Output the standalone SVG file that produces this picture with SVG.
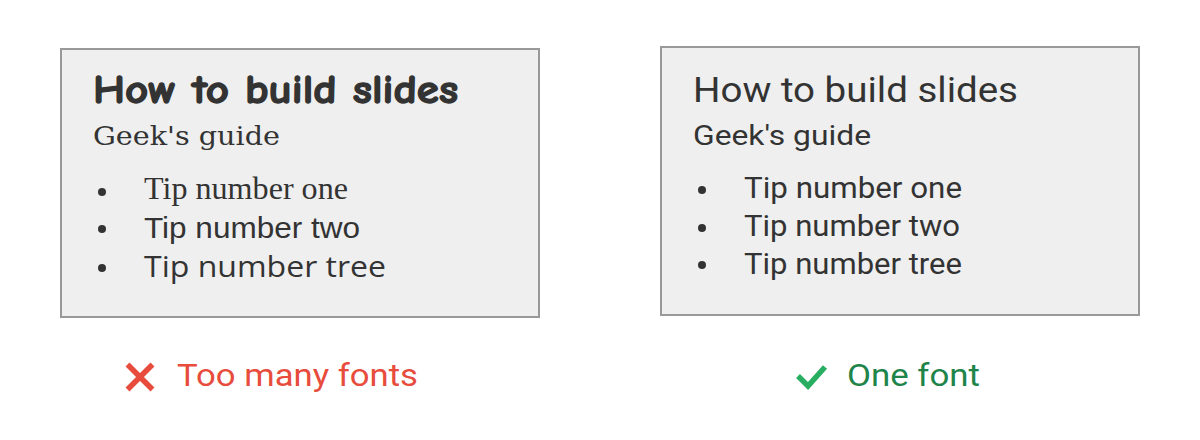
<svg xmlns="http://www.w3.org/2000/svg" width="1200" height="440" viewBox="0 0 1200 440">
<style>
.box{fill:#efefef;stroke:#999;stroke-width:2}
.t{fill:#333}
.dot{fill:#333}
.rob{font-family:Roboto,"Liberation Sans",sans-serif}
</style>
<rect width="1200" height="440" fill="#fff"/>
<g id="bad-slide">
<rect class="box" x="61" y="49" width="478" height="268"/>
<text class="t" x="93" y="103" font-family="'Comic Sans MS','Comic Neue','DejaVu Sans',sans-serif" font-weight="bold" font-size="40" stroke="#333" stroke-width="1.3" stroke-linejoin="round" textLength="365" lengthAdjust="spacingAndGlyphs">How to build slides</text>
<text class="t" x="93" y="145" font-family="'American Typewriter','DejaVu Serif',serif" font-size="26" textLength="187" lengthAdjust="spacingAndGlyphs">Geek's guide</text>
<circle class="dot" cx="102" cy="192" r="4"/>
<circle class="dot" cx="102" cy="229" r="4"/>
<circle class="dot" cx="102" cy="268" r="4"/>
<text class="t" x="144" y="199" font-family="'Times New Roman','Liberation Serif',serif" font-size="31" textLength="204" lengthAdjust="spacingAndGlyphs">Tip number one</text>
<text class="t" x="144" y="238" font-family="'Helvetica Neue',Helvetica,'Liberation Sans',sans-serif" font-size="30" textLength="216" lengthAdjust="spacingAndGlyphs">Tip number two</text>
<text class="t" x="144" y="277" font-family="'Century Gothic','Open Sans',sans-serif" font-size="30" textLength="242" lengthAdjust="spacingAndGlyphs">Tip number tree</text>
</g>
<g id="good-slide" class="rob">
<rect class="box" x="661" y="47" width="478" height="268"/>
<text class="t" x="693" y="102" font-size="35" textLength="325" lengthAdjust="spacingAndGlyphs">How to build slides</text>
<text class="t" x="693" y="145" font-size="27" textLength="178" lengthAdjust="spacingAndGlyphs">Geek's guide</text>
<circle class="dot" cx="702" cy="190" r="4"/>
<circle class="dot" cx="702" cy="228" r="4"/>
<circle class="dot" cx="702" cy="265" r="4"/>
<text class="t" x="744" y="198" font-size="29.5" textLength="218" lengthAdjust="spacingAndGlyphs">Tip number one</text>
<text class="t" x="744" y="236" font-size="29.5" textLength="216" lengthAdjust="spacingAndGlyphs">Tip number two</text>
<text class="t" x="744" y="274" font-size="29.5" textLength="218" lengthAdjust="spacingAndGlyphs">Tip number tree</text>
</g>
<g id="bad-label">
<path d="M127.5 364.5 L152.5 389.5 M152.5 364.5 L127.5 389.5" stroke="#e74c3c" stroke-width="5.5" fill="none"/>
<text class="rob" x="177" y="386" font-size="32" fill="#e74c3c" textLength="241" lengthAdjust="spacingAndGlyphs">Too many fonts</text>
</g>
<g id="good-label">
<path d="M798 376 L808 386 L825 367" stroke="#27ae60" stroke-width="5.5" fill="none"/>
<text class="rob" x="847" y="386" font-size="32" fill="#1e8449" textLength="133" lengthAdjust="spacingAndGlyphs">One font</text>
</g>
</svg>
